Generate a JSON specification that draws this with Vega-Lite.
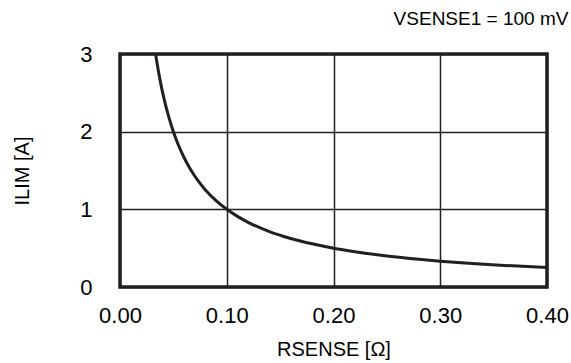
{
  "$schema": "https://vega.github.io/schema/vega-lite/v6.json",
  "width": 427,
  "height": 233,
  "autosize": {"type": "none"},
  "padding": {"left": 120, "top": 54, "right": 24, "bottom": 76},
  "background": "white",
  "config": {
    "font": "Liberation Sans",
    "view": {"stroke": "#231f20", "strokeWidth": 3.5},
    "axis": {
      "domain": false,
      "ticks": false,
      "grid": true,
      "gridColor": "#231f20",
      "gridWidth": 1.5,
      "gridOpacity": 1,
      "labelFlush": false,
      "labelFont": "Liberation Sans",
      "labelFontSize": 22,
      "labelColor": "#000",
      "titleFont": "Liberation Sans",
      "titleFontWeight": "normal",
      "titleFontSize": 20,
      "titleColor": "#000"
    }
  },
  "title": {
    "text": "VSENSE1 = 100 mV",
    "anchor": "end",
    "fontSize": 19,
    "fontWeight": "normal",
    "font": "Liberation Sans",
    "color": "#000",
    "offset": 14
  },
  "data": {
    "values": [
      {"r": 0.0333, "i": 3.0},
      {"r": 0.035, "i": 2.857},
      {"r": 0.0375, "i": 2.667},
      {"r": 0.04, "i": 2.5},
      {"r": 0.045, "i": 2.222},
      {"r": 0.05, "i": 2.0},
      {"r": 0.055, "i": 1.818},
      {"r": 0.06, "i": 1.667},
      {"r": 0.065, "i": 1.538},
      {"r": 0.07, "i": 1.429},
      {"r": 0.08, "i": 1.25},
      {"r": 0.09, "i": 1.111},
      {"r": 0.1, "i": 1.0},
      {"r": 0.11, "i": 0.909},
      {"r": 0.12, "i": 0.833},
      {"r": 0.14, "i": 0.714},
      {"r": 0.16, "i": 0.625},
      {"r": 0.18, "i": 0.556},
      {"r": 0.2, "i": 0.5},
      {"r": 0.22, "i": 0.455},
      {"r": 0.25, "i": 0.4},
      {"r": 0.28, "i": 0.357},
      {"r": 0.3, "i": 0.333},
      {"r": 0.33, "i": 0.303},
      {"r": 0.36, "i": 0.278},
      {"r": 0.4, "i": 0.25}
    ]
  },
  "mark": {"type": "line", "color": "#231f20", "strokeWidth": 3, "interpolate": "monotone"},
  "encoding": {
    "x": {
      "field": "r",
      "type": "quantitative",
      "scale": {"domain": [0, 0.4], "nice": false, "zero": false},
      "axis": {"values": [0, 0.1, 0.2, 0.3, 0.4], "format": ".2f", "labelPadding": 18, "title": "RSENSE [Ω]", "titlePadding": 13}
    },
    "y": {
      "field": "i",
      "type": "quantitative",
      "scale": {"domain": [0, 3], "nice": false},
      "axis": {"values": [0, 1, 2, 3], "labelPadding": 28, "title": "ILIM [A]", "titlePadding": 47}
    }
  }
}
